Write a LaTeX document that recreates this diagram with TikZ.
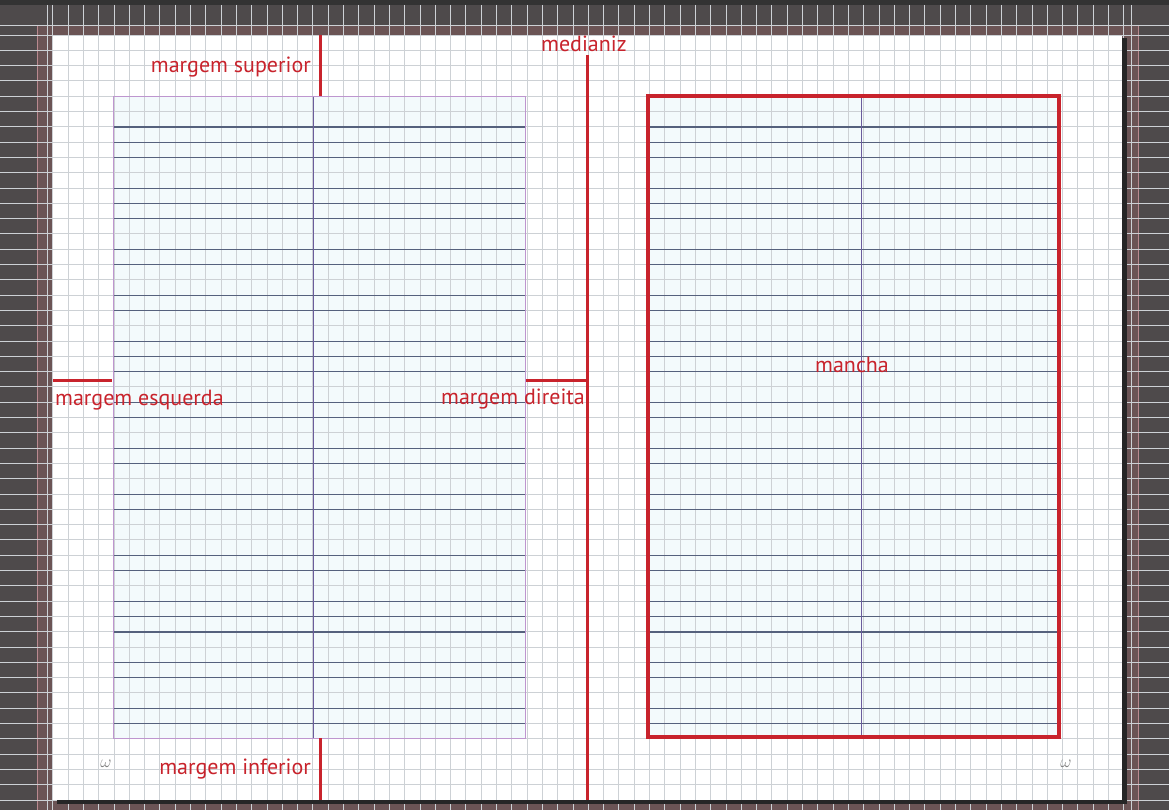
\documentclass[tikz,border=0pt]{standalone}
\usepackage{fontspec}
\setmainfont{PT Sans}
\usetikzlibrary{positioning}
\definecolor{desk}{HTML}{4E4A4B}
\definecolor{bleed}{HTML}{6B5455}
\definecolor{bleedln}{HTML}{B98A90}
\definecolor{gridln}{HTML}{CDD1D5}
\definecolor{framefill}{HTML}{F3FAFC}
\definecolor{baseln}{HTML}{55617D}
\definecolor{margln}{HTML}{BE96CF}
\definecolor{colguide}{HTML}{6A5C9C}
\definecolor{note}{HTML}{C8232C}
\tikzset{tag/.style={text=note,font=\fontsize{22}{26}\selectfont,inner sep=0pt},
  redbar/.style={draw=note,line width=3pt},
  pagemark/.style={text=gray,font=\fontsize{16}{18}\selectfont,inner sep=0pt},
  baseline/.style={draw=baseln,line width=1.3pt},
  guide/.style={draw=colguide,line width=1pt}}

\begin{document}
\begin{tikzpicture}[x=1pt,y=-1pt]
\useasboundingbox (0,0) rectangle (1169,810);
\fill[desk] (0,0) rectangle (1169,810);
\fill[black!80] (0,0) rectangle (1169,5);
\filldraw[fill=bleed,draw=bleedln,line width=0.8pt] (37,25) rectangle (1138,815);
\fill[white] (53,35) rectangle (1122,800);
\fill[framefill] (113,97) rectangle (525,738);
\fill[framefill] (648,96) rectangle (1059,737);
\foreach \i in {0,...,70}
  \draw[gridln,line width=0.9pt] ({52.8+15.3*\i},5) -- ({52.8+15.3*\i},810);
\foreach \j in {0,...,50}
  \draw[gridln,line width=0.9pt] (0,{35+15.3*\j}) -- (1169,{35+15.3*\j});
\draw[gridln,line width=0.9pt] (0,25) -- (1169,25);
\draw[gridln,line width=0.9pt] (47,5) -- (47,810);
\draw[gridln,line width=0.9pt] (1131,5) -- (1131,810);
\foreach \n in {0,1,2,4,5,6,8,9,11,12,14,15,16,18,19,21,22,24,25,28,29,31,32,33,35,36,38,39} {
  \draw[baseline] (113,{127+15.3*\n}) -- (525,{127+15.3*\n});
  \draw[baseline] (648,{127+15.3*\n}) -- (1059,{127+15.3*\n});
}
\draw[margln,line width=1pt] (113,97) rectangle (525,738);
\draw[guide] (313,97) -- (313,738);
\draw[guide] (861,96) -- (861,737);
\draw[draw=note,line width=3.2pt] (648,96) rectangle (1059,737);
\fill[black!85] (1122,38) rectangle (1127,804);
\fill[black!85] (57,800) rectangle (1127,804);

\node[tag,anchor=base east] (sup) at (311,73) {margem superior};
\node[tag,anchor=base west] (med) at (541,52) {medianiz};
\node[tag,anchor=base west] (esq) at (55,405) {margem esquerda};
\node[tag,anchor=base east] (dir) at (585,404) {margem direita};
\node[tag,anchor=base west] (mancha) at (815,372) {mancha};
\node[tag,anchor=base east] (inf) at (311,774) {margem inferior};
\node[pagemark] (pgl) at (106,764) {$\omega$};
\node[pagemark] (pgr) at (1066,764) {$\omega$};

\coordinate (supA) at (320,35);
\coordinate (supB) at (320,96);
\coordinate (infA) at (320,738);
\coordinate (infB) at (320,800);
\coordinate (medA) at (587,55);
\coordinate (medB) at (587,800);
\coordinate (esqA) at (53,380);
\coordinate (esqB) at (112,380);
\coordinate (dirA) at (526,380);
\coordinate (dirB) at (587,380);
\draw[redbar] (supA) -- (supB);
\draw[redbar] (infA) -- (infB);
\draw[redbar] (medA) -- (medB);
\draw[redbar] (esqA) -- (esqB);
\draw[redbar] (dirA) -- (dirB);
\end{tikzpicture}
\end{document}
